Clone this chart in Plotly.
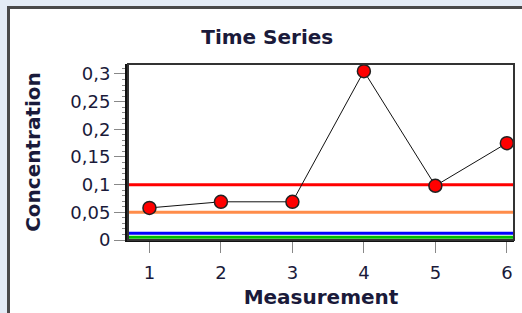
import plotly.graph_objects as go

# ---- data ----
measurements = [1, 2, 3, 4, 5, 6]
concentration = [0.058, 0.069, 0.069, 0.305, 0.098, 0.175]
threshold_values = [0.1, 0.05, 0.012, 0.005]
threshold_colors = ["#ff0000", "#ff8c4a", "#0000ff", "#00c000"]
y_ticks = [0, 0.05, 0.1, 0.15, 0.2, 0.25, 0.3]
x_ticks = [1, 2, 3, 4, 5, 6]

W, H = 522, 313
L, R, T, B = 128, 8, 64, 73
pw, ph = W - L - R, H - T - B

def xp(px):
    return (px - L) / pw

def yp(py):
    return (H - B - py) / ph

FONT = "DejaVu Sans"
TXT = "#1a1a3a"

fig = go.Figure()
fig.add_trace(go.Scatter(
    x=measurements, y=concentration, mode="lines+markers",
    line=dict(color="#111111", width=1),
    marker=dict(color="#ff0000", size=13, symbol="circle",
                line=dict(color="#222222", width=1.5)),
    showlegend=False, cliponaxis=False, hoverinfo="skip",
))

for v, c in zip(threshold_values, threshold_colors):
    fig.add_shape(type="line", xref="paper", yref="y", x0=0, x1=1, y0=v, y1=v,
                  line=dict(color=c, width=3), layer="below")

# window frame decorations
blue = "#e4ecf6"
frame = "#4a4a4a"
fig.add_shape(type="rect", xref="paper", yref="paper", x0=xp(0), x1=xp(7),
              y0=yp(H), y1=yp(0), fillcolor=blue, line=dict(width=0), layer="above")
fig.add_shape(type="rect", xref="paper", yref="paper", x0=xp(0), x1=xp(W),
              y0=yp(6), y1=yp(0), fillcolor=blue, line=dict(width=0), layer="above")
fig.add_shape(type="rect", xref="paper", yref="paper", x0=xp(7), x1=xp(10),
              y0=yp(H), y1=yp(6), fillcolor=frame, line=dict(width=0), layer="above")
fig.add_shape(type="rect", xref="paper", yref="paper", x0=xp(7), x1=xp(W),
              y0=yp(9), y1=yp(6), fillcolor=frame, line=dict(width=0), layer="above")
# plot frame
fig.add_shape(type="rect", xref="paper", yref="paper", x0=0, x1=1, y0=0, y1=1,
              line=dict(color="#333333", width=2), layer="above")

fig.update_layout(
    width=W, height=H,
    margin=dict(l=L, r=R, t=T, b=B, autoexpand=False),
    paper_bgcolor="white", plot_bgcolor="white",
    separators=", ",
    font=dict(family=FONT, color=TXT, size=18),
    title=dict(text="<b>Time Series</b>", x=0.512, xanchor="center",
               y=1 - 37 / H, yanchor="middle",
               font=dict(family=FONT, size=20, color=TXT)),
    xaxis=dict(
        range=[0.7, 6.1], tickvals=x_ticks, showgrid=False, zeroline=False,
        showline=True, linecolor="#111111", linewidth=2,
        ticks="outside", ticklen=11, tickcolor="#888888", tickwidth=1,
        ticklabelstandoff=4,
        tickfont=dict(size=18, family=FONT, color=TXT),
        title=dict(text="<b>Measurement</b>", standoff=8,
                   font=dict(size=20, family=FONT, color=TXT)),
    ),
    yaxis=dict(
        range=[0, 0.318], tickvals=y_ticks, showgrid=False, zeroline=False,
        showline=True, linecolor="#111111", linewidth=3,
        ticks="outside", ticklen=11, tickcolor="#888888", tickwidth=1,
        minor=dict(dtick=0.01, ticks="outside", ticklen=3, tickcolor="#888888", showgrid=False),
        tickfont=dict(size=18, family=FONT, color=TXT),
        title=dict(text="<b>Concentration</b>", standoff=25,
                   font=dict(size=20, family=FONT, color=TXT)),
    ),
)

fig.write_html(
    "out.html",
    config={"displayModeBar": False, "staticPlot": True},
    post_script="document.body.style.margin='0';document.body.style.overflow='hidden';window.scrollTo(0,0);",
)
